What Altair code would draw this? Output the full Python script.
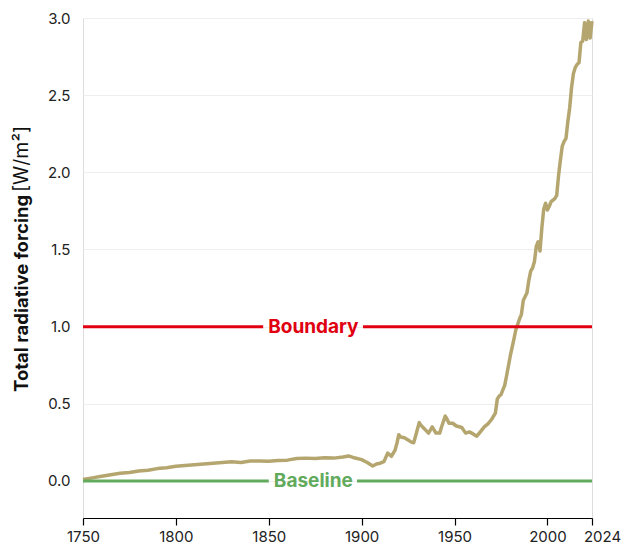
import altair as alt
import pandas as pd

years = [1750, 1755, 1760, 1765, 1770, 1775, 1780, 1785, 1790, 1795,
         1800, 1805, 1810, 1815, 1820, 1825, 1830, 1835, 1840, 1845,
         1850, 1855, 1860, 1865, 1870, 1875, 1880, 1885, 1890, 1893,
         1896, 1900, 1903, 1906, 1908, 1910, 1912, 1914, 1916, 1918,
         1919, 1920, 1921, 1923, 1925, 1927, 1928, 1929, 1931, 1932,
         1934, 1936, 1938, 1940, 1942, 1943, 1945, 1946, 1947, 1949,
         1951, 1953, 1954, 1956, 1958, 1960, 1962, 1964, 1966, 1968,
         1970, 1971, 1972, 1973, 1974, 1975, 1977, 1978, 1980, 1982,
         1983, 1985, 1986, 1987, 1989, 1990, 1991, 1992, 1993, 1994,
         1995, 1996, 1997, 1998, 1999, 2000, 2001, 2002, 2004, 2005,
         2006, 2007, 2008, 2009, 2010, 2011, 2012, 2013, 2014, 2015,
         2016, 2017, 2018, 2019, 2020, 2021, 2022, 2023, 2024]
forcing = [0.01, 0.02, 0.03, 0.04, 0.05, 0.055, 0.065, 0.07, 0.08, 0.085,
           0.095, 0.10, 0.105, 0.11, 0.115, 0.12, 0.125, 0.12, 0.13, 0.13,
           0.128, 0.132, 0.135, 0.145, 0.148, 0.145, 0.15, 0.148, 0.155, 0.162,
           0.15, 0.138, 0.12, 0.097, 0.11, 0.115, 0.125, 0.18, 0.16, 0.20,
           0.245, 0.30, 0.285, 0.28, 0.265, 0.25, 0.248, 0.29, 0.378, 0.36,
           0.335, 0.31, 0.35, 0.31, 0.31, 0.35, 0.42, 0.40, 0.374, 0.374,
           0.356, 0.35, 0.345, 0.31, 0.318, 0.305, 0.29, 0.32, 0.35, 0.37,
           0.40, 0.42, 0.44, 0.53, 0.55, 0.56, 0.62, 0.68, 0.81, 0.92,
           0.98, 1.05, 1.08, 1.17, 1.22, 1.30, 1.36, 1.38, 1.42, 1.52,
           1.55, 1.49, 1.64, 1.76, 1.80, 1.756, 1.78, 1.81, 1.83, 1.85,
           1.98, 2.08, 2.17, 2.20, 2.22, 2.33, 2.42, 2.55, 2.64, 2.68,
           2.70, 2.71, 2.84, 2.85, 2.97, 2.86, 2.98, 2.87, 2.98]

# reference lines: label, value, segment start, segment end
ref_names = ["Boundary", "Boundary", "Baseline", "Baseline"]
ref_values = [1.0, 1.0, 0.0, 0.0]
ref_start = [1750, 1900.7, 1750, 1897.5]
ref_end = [1847, 2024, 1850, 2024]

label_names = ["Boundary", "Baseline"]
label_values = [1.0, 0.0]
label_year = [1874, 1874]

x_ticks = [1750, 1800, 1850, 1900, 1950, 2000, 2024]
y_ticks = [0, 0.5, 1.0, 1.5, 2.0, 2.5, 3.0]

FONT = "Inter"
RED = "#e00010"
GREEN = "#62aa5c"
TAN = "#b5a670"

df = pd.DataFrame({"year": years, "forcing": forcing})
refs = pd.DataFrame({"name": ref_names, "value": ref_values, "start": ref_start, "end": ref_end})
labels = pd.DataFrame({"name": label_names, "value": label_values, "year": label_year})

xscale = alt.Scale(domain=[1750, 2024], nice=False, zero=False)
yscale = alt.Scale(domain=[-0.24, 3.0], nice=False, zero=False)
color_scale = alt.Scale(domain=["Boundary", "Baseline"], range=[RED, GREEN])

line = alt.Chart(df).mark_line(color=TAN, strokeWidth=3.5, strokeJoin="round").encode(
    x=alt.X("year:Q", scale=xscale,
            axis=alt.Axis(values=x_ticks, format="d", title=None, grid=False,
                          domainColor="#000", domainWidth=1.2, tickColor="#000",
                          tickSize=7, tickWidth=1.2, labelFontSize=15, labelColor="#222",
                          labelFont=FONT, labelPadding=4, labelFlush=False,
                          labelOffset={"condition": {"test": "datum.value === 2024", "value": 10},
                                       "value": 0})),
    y=alt.Y("forcing:Q", scale=yscale,
            axis=alt.Axis(values=y_ticks, format=".1f", title=None, domain=False, ticks=False,
                          gridColor="#eeeeee", gridWidth=1, labelFontSize=15, labelColor="#222",
                          labelFont=FONT, labelPadding=13)),
)

rules = alt.Chart(refs).mark_rule(strokeWidth=3).encode(
    x="start:Q", x2="end:Q", y="value:Q",
    color=alt.Color("name:N", scale=color_scale, legend=None),
)

texts = alt.Chart(labels).mark_text(font=FONT, fontSize=19, fontWeight="bold",
                                    align="center", baseline="middle").encode(
    x="year:Q", y="value:Q", text="name:N",
    color=alt.Color("name:N", scale=color_scale, legend=None),
)

title_bold = alt.Chart(pd.DataFrame({"t": ["Total radiative forcing"]})).mark_text(
    font=FONT, fontSize=18.5, fontWeight="bold", angle=270, align="left",
    baseline="middle", color="#111").encode(
    text="t:N", x=alt.value(-61), y=alt.value(374))

title_unit = alt.Chart(pd.DataFrame({"t": ["[W/m²]"]})).mark_text(
    font=FONT, fontSize=19.5, fontWeight="normal", angle=270, align="left",
    baseline="middle", color="#111").encode(
    text="t:N", x=alt.value(-61), y=alt.value(174))

chart = alt.layer(line, rules, texts, title_bold, title_unit).properties(
    width=509, height=500,
    autosize=alt.AutoSizeParams(type="none"),
    padding={"left": 75, "top": 10, "right": 32, "bottom": 30},
).configure_view(stroke=None).configure(background="white")

chart.save("out.html", embed_options={"renderer": "svg", "actions": False})
